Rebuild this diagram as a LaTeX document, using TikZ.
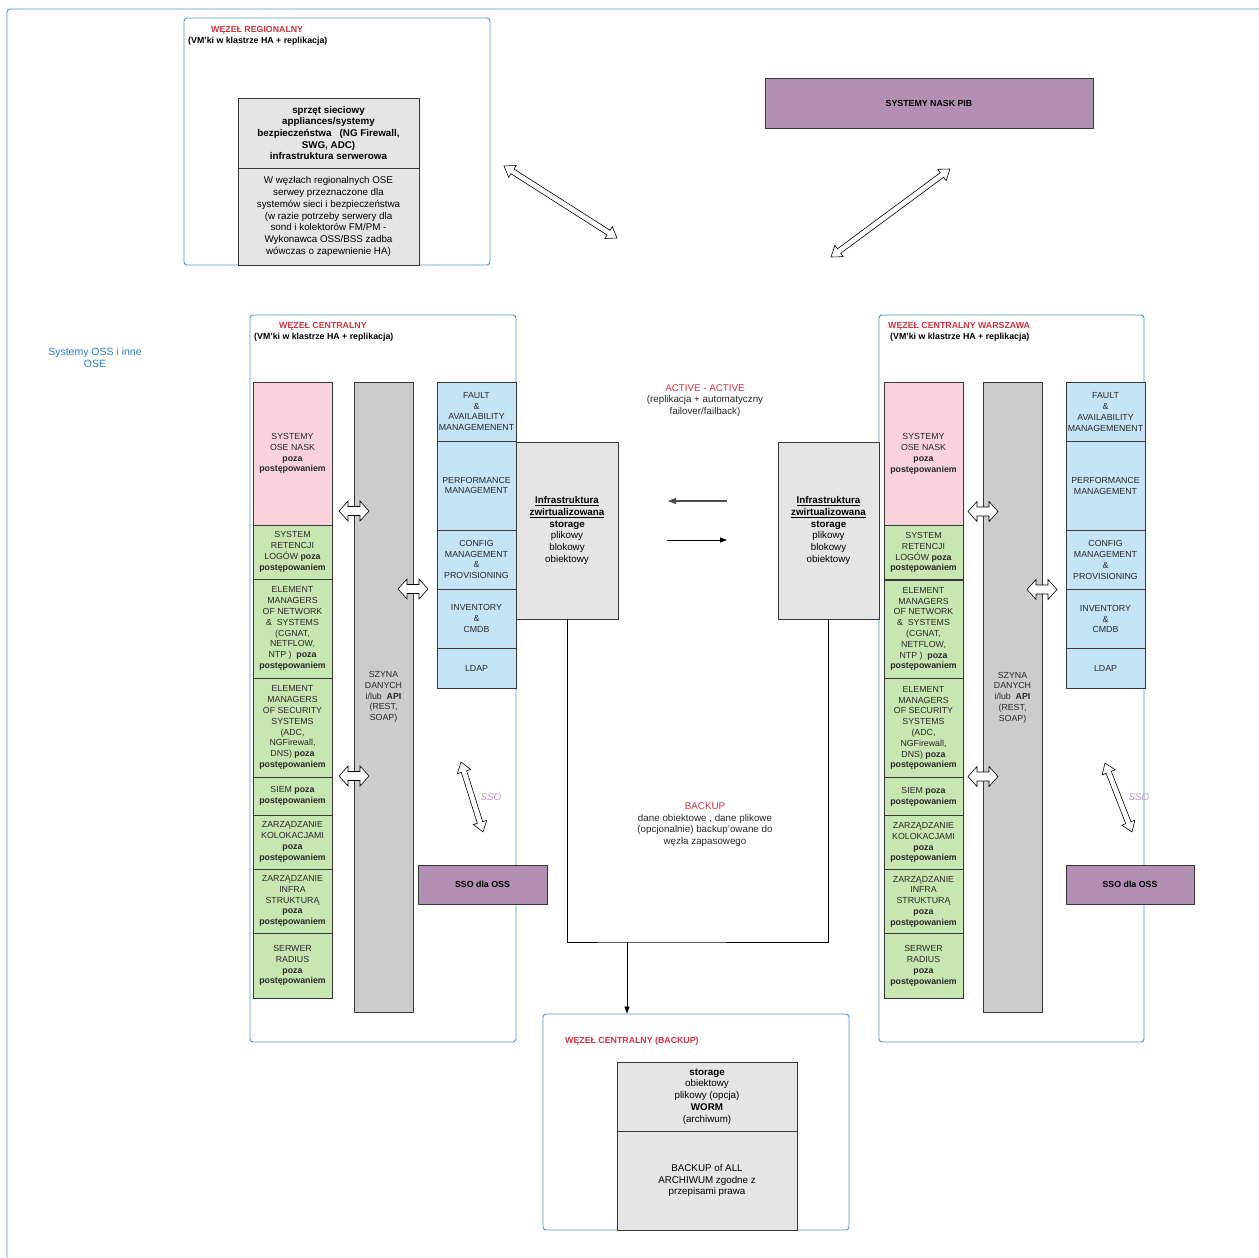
\documentclass[tikz,border=0pt]{standalone}
\usepackage{fontspec}
\setmainfont{Liberation Sans}
\usetikzlibrary{calc,arrows.meta}

\definecolor{frameblue}{RGB}{70,150,205}
\definecolor{titlered}{RGB}{208,50,66}
\definecolor{boxline}{RGB}{55,55,55}
\definecolor{pinkfill}{RGB}{249,210,220}
\definecolor{greenfill}{RGB}{200,230,178}
\definecolor{bluefill}{RGB}{197,228,246}
\definecolor{busfill}{RGB}{204,204,204}
\definecolor{storefill}{RGB}{229,229,229}
\definecolor{purplefill}{RGB}{180,143,180}
\definecolor{ssotext}{RGB}{190,150,200}
\definecolor{osstext}{RGB}{40,125,190}
\definecolor{bodytext}{RGB}{40,40,40}

\newcommand\colfont{\fontsize{8.8}{10.8}\selectfont}
\newcommand\bodyfont{\fontsize{9.8}{11.7}\selectfont}

\tikzset{
  container/.style={draw=frameblue, line width=0.9pt, rounded corners=3pt},
  cellbox/.style={draw=boxline, line width=0.8pt, inner sep=1pt, align=center,
                  font=\colfont, text=bodytext},
  pinkcell/.style={cellbox, fill=pinkfill},
  greencell/.style={cellbox, fill=greenfill},
  bluecell/.style={cellbox, fill=bluefill},
  buscell/.style={cellbox, fill=busfill},
  storebox/.style={draw=boxline, line width=0.8pt, fill=storefill, align=center,
                   font=\bodyfont, text=black, inner sep=1pt},
  purplebox/.style={draw=boxline, line width=0.8pt, fill=purplefill,
                    font=\colfont\bfseries, text=black, inner sep=1pt},
  title/.style={font=\colfont\bfseries, text=titlered, anchor=west, inner sep=0pt},
  subtitle/.style={font=\colfont\bfseries, text=black, anchor=west, inner sep=0pt},
  hollow/.style={draw=black, line width=0.6pt, fill=white, line join=miter},
  flow/.style={draw=black, line width=0.8pt},
  tip/.style={-{Triangle[length=7pt,width=5pt]}}
}

% box given by its corners: name, x1, y1, x2, y2, style, text
\newcommand\boxcell[7]{%
  \node[#6, minimum width={#4-#2}, minimum height={#5-#3}] (#1)
    at ({(#2+#4)/2},{(#3+#5)/2}) {#7};}

% outlined double-headed block arrow between two named points
% #1 start, #2 end, #3 shaft half width, #4 head half width, #5 head length
\newcommand\hollowarrow[5]{%
  \draw[hollow]
    ($(#1)!#5!(#2)!#3!90:(#2)$) --
    ($(#2)!#5!(#1)!#3!-90:(#1)$) --
    ($(#2)!#5!(#1)!#4!-90:(#1)$) -- (#2) --
    ($(#2)!#5!(#1)!#4!90:(#1)$) --
    ($(#2)!#5!(#1)!#3!90:(#1)$) --
    ($(#1)!#5!(#2)!#3!-90:(#2)$) --
    ($(#1)!#5!(#2)!#4!-90:(#2)$) -- (#1) --
    ($(#1)!#5!(#2)!#4!90:(#2)$) -- cycle;}

% the three columns of a central node; #1 is the name prefix,
% #2 a small horizontal offset of the left column
\newcommand\centralcols[2]{%
  \begin{scope}[xshift=#2pt]
  \boxcell{#1pink}{253}{382}{332}{525}{pinkcell}{SYSTEMY\\OSE NASK\\\textbf{poza}\\\textbf{postępowaniem}}
  \boxcell{#1ret}{253}{525}{332}{579}{greencell}{SYSTEM\\RETENCJI\\LOGÓW \textbf{poza}\\\textbf{postępowaniem}}
  \boxcell{#1emn}{253}{579}{332}{678}{greencell}{ELEMENT\\MANAGERS\\OF NETWORK\\\& \ SYSTEMS\\(CGNAT,\\NETFLOW,\\NTP ) \ \textbf{poza}\\\textbf{postępowaniem}}
  \boxcell{#1ems}{253}{678}{332}{777}{greencell}{ELEMENT\\MANAGERS\\OF SECURITY\\SYSTEMS\\(ADC,\\NGFirewall,\\DNS) \textbf{poza}\\\textbf{postępowaniem}}
  \boxcell{#1siem}{253}{777}{332}{815}{greencell}{SIEM \textbf{poza}\\\textbf{postępowaniem}}
  \boxcell{#1kol}{253}{815}{332}{869}{greencell}{ZARZĄDZANIE\\KOLOKACJAMI\\\textbf{poza}\\\textbf{postępowaniem}}
  \boxcell{#1inf}{253}{869}{332}{933}{greencell}{ZARZĄDZANIE\\INFRA\\STRUKTURĄ\\\textbf{poza}\\\textbf{postępowaniem}}
  \boxcell{#1rad}{253}{933}{332}{998}{greencell}{SERWER\\RADIUS\\\textbf{poza}\\\textbf{postępowaniem}}
  \draw[draw=boxline, line width=1.5pt] (#1ret.south west) -- (#1ret.south east);
  \end{scope}
  \boxcell{#1bus}{354}{382}{413}{1012}{buscell}{SZYNA\\DANYCH\\i/lub \ \textbf{API}\\(REST,\\SOAP)}
  \boxcell{#1fault}{437}{382}{516}{441}{bluecell}{FAULT\\\&\\AVAILABILITY\\MANAGEMENENT}
  \boxcell{#1perf}{437}{441}{516}{530}{bluecell}{PERFORMANCE\\MANAGEMENT}
  \boxcell{#1conf}{437}{530}{516}{589}{bluecell}{CONFIG\\MANAGEMENT\\\&\\PROVISIONING}
  \boxcell{#1inv}{437}{589}{516}{648}{bluecell}{INVENTORY\\\&\\CMDB}
  \boxcell{#1ldap}{437}{648}{516}{688}{bluecell}{LDAP}
  \coordinate (#1a1s) at (339,511); \coordinate (#1a1e) at (369,511);
  \coordinate (#1a2s) at (398,589); \coordinate (#1a2e) at (428,589);
  \coordinate (#1a3s) at (339,776); \coordinate (#1a3e) at (369,776);
  \hollowarrow{#1a1s}{#1a1e}{4.5pt}{10pt}{9pt}
  \hollowarrow{#1a2s}{#1a2e}{4.5pt}{10pt}{9pt}
  \hollowarrow{#1a3s}{#1a3e}{4.5pt}{10pt}{9pt}
}

\begin{document}
\begin{tikzpicture}[x=1pt, y=-1pt]
  \useasboundingbox (0,0) rectangle (1259,1258);
  \clip (0,0) rectangle (1259,1258);

  % outer frame
  \draw[container] (7,9) rectangle (1280,1280);
  \node[font=\fontsize{10.5}{12}\selectfont, text=osstext, align=center] (oss)
    at (95,358) {Systemy OSS i inne\\OSE};

  % regional node
  \boxcell{regional}{184}{18}{490}{265}{container}{}
  \node[title] (regtitle) at (211,30.5) {WĘZEŁ REGIONALNY};
  \node[subtitle] (regsub) at (188,41.5) {(VM'ki w klastrze HA + replikacja)};
  \boxcell{regtop}{238}{98}{419}{168}{storebox, font=\bodyfont\bfseries}{sprzęt sieciowy\\appliances/systemy\\bezpieczeństwa \ \ (NG Firewall,\\SWG, ADC)\\infrastruktura serwerowa}
  \boxcell{regbot}{238}{168}{419}{265}{storebox}{W węzłach regionalnych OSE\\serwey przeznaczone dla\\systemów sieci i bezpieczeństwa\\(w razie potrzeby serwery dla\\sond i kolektorów FM/PM -\\Wykonawca OSS/BSS zadba\\wówczas o zapewnienie HA)}

  % NASK systems
  \boxcell{nask}{765}{78}{1093}{128}{purplebox}{SYSTEMY NASK PIB}

  % links to the regional node and to NASK
  \coordinate (d1a) at (504,166); \coordinate (d1b) at (617,238);
  \coordinate (d2a) at (950,169); \coordinate (d2b) at (831,257);
  \hollowarrow{d1a}{d1b}{2.8pt}{7pt}{10pt}
  \hollowarrow{d2a}{d2b}{2.8pt}{7pt}{10pt}

  % central node
  \boxcell{centralL}{250}{315}{516}{1042}{container}{}
  \node[title] (ltitle) at (279,326.5) {WĘZEŁ CENTRALNY};
  \node[subtitle] (lsub) at (254,337.5) {(VM'ki w klastrze HA + replikacja)};
  \centralcols{L}{0}

  % central node Warszawa
  \boxcell{centralR}{879}{315}{1144}{1042}{container}{}
  \node[title] (rtitle) at (888,326.5) {WĘZEŁ CENTRALNY WARSZAWA};
  \node[subtitle] (rsub) at (890,337.5) {(VM'ki w klastrze HA + replikacja)};
  \begin{scope}[xshift=629pt, yshift=-0.5pt]
    \centralcols{R}{2}
  \end{scope}

  % virtualised infrastructure
  \boxcell{infraL}{516}{442}{618}{619}{storebox}{\underline{\textbf{Infrastruktura}}\\\underline{\textbf{zwirtualizowana}}\\\textbf{storage}\\plikowy\\blokowy\\obiektowy}
  \boxcell{infraR}{778}{442}{879}{619}{storebox}{\underline{\textbf{Infrastruktura}}\\\underline{\textbf{zwirtualizowana}}\\\textbf{storage}\\plikowy\\blokowy\\obiektowy}

  \node[align=center, font=\bodyfont, text=bodytext] (active) at (705,400.5)
    {\textcolor{titlered}{ACTIVE - ACTIVE}\\(replikacja + automatyczny\\failover/failback)};
  \coordinate (r2ls) at (727,501); \coordinate (r2le) at (668,501);
  \coordinate (l2rs) at (667,540); \coordinate (l2re) at (727,540);
  \draw[flow, -{Triangle[length=8pt,width=6pt]}, draw=black!70, line width=1.1pt] (r2ls) -- (r2le);
  \draw[flow, tip] (l2rs) -- (l2re);

  % SSO
  \boxcell{ssoL}{418}{865}{547}{904}{purplebox}{SSO dla OSS}
  \boxcell{ssoR}{1066}{865}{1194}{904}{purplebox}{SSO dla OSS}
  \coordinate (sLa) at (461,762); \coordinate (sLb) at (483,832);
  \coordinate (sRa) at (1105,763); \coordinate (sRb) at (1132,832);
  \hollowarrow{sLa}{sLb}{2.8pt}{7pt}{10pt}
  \hollowarrow{sRa}{sRb}{2.8pt}{7pt}{10pt}
  \node[font=\bodyfont\itshape, text=ssotext] (ssoLlab) at (491,797) {SSO};
  \node[font=\bodyfont\itshape, text=ssotext] (ssoRlab) at (1139,797) {SSO};

  % backup
  \node[align=center, font=\bodyfont, text=bodytext] (backuptxt) at (705,824.5)
    {\textcolor{titlered}{BACKUP}\\dane obiektowe , dane plikowe\\(opcjonalnie) backup'owane do\\węzła zapasowego};
  \boxcell{backup}{543}{1014}{849}{1230}{container}{}
  \node[title] (bktitle) at (565,1041.5) {WĘZEŁ CENTRALNY (BACKUP)};
  \boxcell{bktop}{617}{1062}{797}{1131}{storebox}{\textbf{storage}\\obiektowy\\plikowy (opcja)\\\textbf{WORM}\\(archiwum)}
  \boxcell{bkbot}{617}{1131}{797}{1230}{storebox}{BACKUP of ALL\\ARCHIWUM zgodne z\\przepisami prawa}

  \coordinate (bkjoin) at (627,942);
  \draw[flow] (infraL.south) |- (bkjoin) -| (infraR.south);
  \draw[flow, tip] (bkjoin) -- (bkjoin |- backup.north);
\end{tikzpicture}
\end{document}
